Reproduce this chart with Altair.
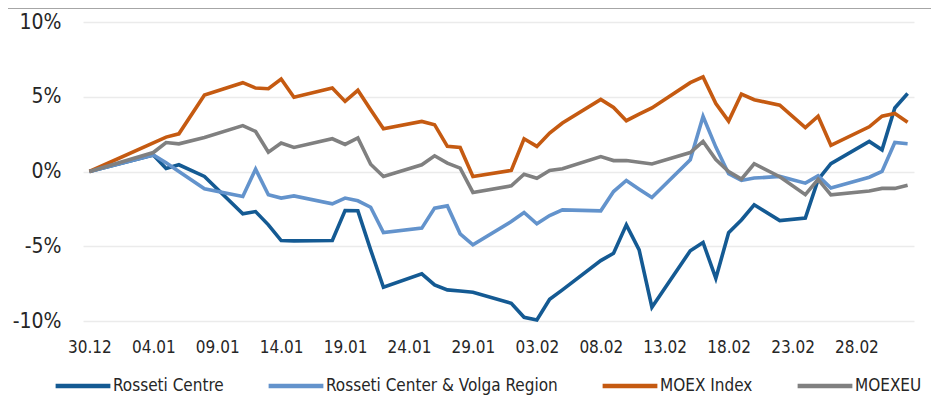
import altair as alt
import pandas as pd

dates = ["2020-12-30", "2021-01-04", "2021-01-05", "2021-01-06", "2021-01-08",
         "2021-01-11", "2021-01-12", "2021-01-13", "2021-01-14", "2021-01-15",
         "2021-01-18", "2021-01-19", "2021-01-20", "2021-01-21", "2021-01-22",
         "2021-01-25", "2021-01-26", "2021-01-27", "2021-01-28", "2021-01-29",
         "2021-02-01", "2021-02-02", "2021-02-03", "2021-02-04", "2021-02-05",
         "2021-02-08", "2021-02-09", "2021-02-10", "2021-02-11", "2021-02-12",
         "2021-02-15", "2021-02-16", "2021-02-17", "2021-02-18", "2021-02-19",
         "2021-02-20", "2021-02-22", "2021-02-24", "2021-02-25", "2021-02-26",
         "2021-03-01", "2021-03-02", "2021-03-03", "2021-03-04"]

rosseti_centre = [0, 1.1, 0.2, 0.45, -0.33,
                  -2.83, -2.68, -3.57, -4.62, -4.64,
                  -4.62, -2.61, -2.63, -5.24, -7.74,
                  -6.85, -7.59, -7.92, -7.99, -8.08,
                  -8.82, -9.75, -9.93, -8.55, -7.92,
                  -5.96, -5.47, -3.57, -5.24, -9.08,
                  -5.3, -4.75, -7.14, -4.1, -3.24,
                  -2.23, -3.28, -3.12, -0.55, 0.52,
                  2.01, 1.45, 4.25, 5.22]

rosseti_volga = [0, 1.1, 0.58, 0.0, -1.15,
                 -1.67, 0.16, -1.56, -1.78, -1.63,
                 -2.16, -1.78, -1.96, -2.39, -4.08,
                 -3.79, -2.45, -2.3, -4.17, -4.91,
                 -3.35, -2.74, -3.5, -2.95, -2.57,
                 -2.63, -1.34, -0.6, -1.18, -1.74,
                 0.78, 3.68, 1.63, -0.15, -0.6,
                 -0.44, -0.33, -0.78, -0.29, -1.11,
                 -0.38, 0.0, 1.94, 1.86]

moex_index = [0, 1.92, 2.3, 2.52, 5.11,
              5.94, 5.58, 5.54, 6.19, 4.97,
              5.58, 4.69, 5.43, 4.13, 2.86,
              3.35, 3.13, 1.68, 1.61, -0.33,
              0.07, 2.19, 1.68, 2.57, 3.24,
              4.82, 4.28, 3.4, 3.84, 4.25,
              5.94, 6.33, 4.55, 3.37, 5.18,
              4.8, 4.44, 2.93, 3.7, 1.75,
              2.99, 3.7, 3.88, 3.29]

moexeu = [0, 1.27, 1.94, 1.85, 2.28,
          3.07, 2.68, 1.29, 1.9, 1.61,
          2.19, 1.81, 2.24, 0.49, -0.33,
          0.45, 1.05, 0.56, 0.23, -1.4,
          -0.96, -0.18, -0.45, 0.07, 0.18,
          1.0, 0.73, 0.73, 0.62, 0.5,
          1.27, 2.01, 0.8, 0.0, -0.51,
          0.52, -0.35, -1.55, -0.53, -1.56,
          -1.3, -1.13, -1.13, -0.92]

series_names = ["Rosseti Centre", "Rosseti Center & Volga Region", "MOEX Index", "MOEXEU"]
series_colors = ["#145a93", "#6393cc", "#c55a11", "#808080"]
series_values = [rosseti_centre, rosseti_volga, moex_index, moexeu]

tick_dates = ["2020-12-30", "2021-01-04", "2021-01-09", "2021-01-14", "2021-01-19",
              "2021-01-24", "2021-01-29", "2021-02-03", "2021-02-08", "2021-02-13",
              "2021-02-18", "2021-02-23", "2021-02-28"]
y_ticks = [-10, -5, 0, 5, 10]

rows = []
for order, (name, vals) in enumerate(zip(series_names, series_values)):
    for d, v in zip(dates, vals):
        rows.append({"date": d, "value": v, "series": name, "order": order})
df = pd.DataFrame(rows)

tick_ms = [int(pd.Timestamp(d, tz="UTC").value // 1_000_000) for d in tick_dates]
dom_start = int(pd.Timestamp("2020-12-29 12:00", tz="UTC").value // 1_000_000)
dom_end = int(pd.Timestamp("2021-03-04 12:00", tz="UTC").value // 1_000_000)

FONT = "DejaVu Sans Condensed, Roboto, sans-serif"

lines = alt.Chart(df).mark_line(strokeWidth=3.6, strokeJoin="miter").encode(
    x=alt.X("date:T",
            scale=alt.Scale(type="utc", domain=[dom_start, dom_end], nice=False),
            axis=alt.Axis(values=tick_ms,
                          labelExpr="utcFormat(datum.value, '%d.%m')",
                          title=None, grid=False, domain=False, ticks=False,
                          labelFontSize=17, labelPadding=18, labelColor="#262626",
                          labelFont=FONT, labelOverlap=False)),
    y=alt.Y("value:Q",
            scale=alt.Scale(domain=[-10, 10], nice=False),
            axis=alt.Axis(values=y_ticks, labelExpr="datum.value + '%'",
                          title=None, domain=False, ticks=False,
                          gridColor="#ebebeb", gridWidth=1.5,
                          labelFontSize=21, labelPadding=22, labelColor="#262626",
                          labelFont=FONT)),
    color=alt.Color("series:N",
                    scale=alt.Scale(domain=series_names, range=series_colors),
                    legend=alt.Legend(title=None, orient="none", direction="horizontal",
                                      legendX=-30, legendY=334,
                                      symbolType="stroke", symbolSize=3000,
                                      symbolStrokeWidth=4.5, labelFontSize=17,
                                      labelFont=FONT, labelColor="#262626",
                                      labelLimit=400,
                                      columnPadding=35, labelOffset=0, padding=0)),
    order=alt.Order("order:Q"),
)

top_rule = alt.Chart(df).mark_rule(color="#a6a6a6", strokeWidth=2).encode(
    x=alt.value(-75), x2=alt.value(916), y=alt.value(-14)
)

chart = alt.layer(top_rule, lines).properties(
    width=831, height=299,
    autosize=alt.AutoSizeParams(type="none"),
    padding={"left": 75, "top": 14, "right": 17, "bottom": 80},
).configure_view(stroke=None)

chart.save("out.html", embed_options={"renderer": "svg", "actions": False})
